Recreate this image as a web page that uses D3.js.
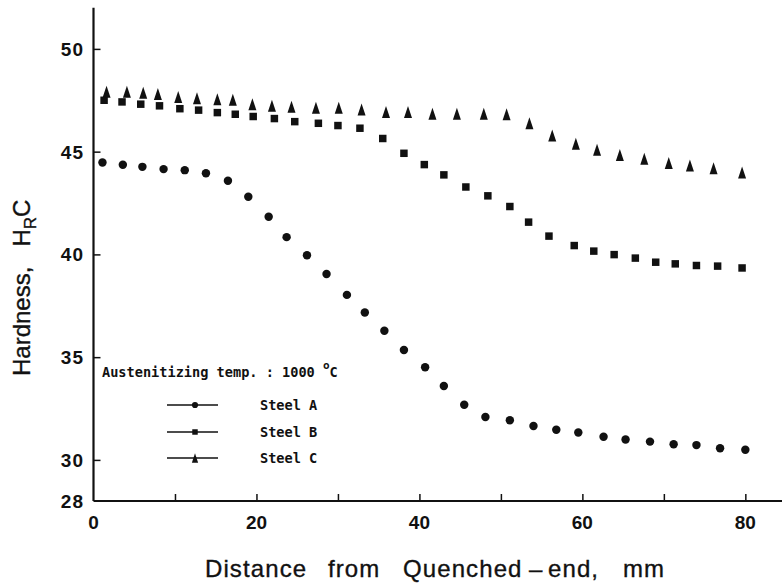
<!DOCTYPE html>
<html>
<head>
<meta charset="utf-8">
<script src="https://cdn.jsdelivr.net/npm/d3@7"></script>
<style>
  body { margin: 0; background: #fff; }
  svg { display: block; }
</style>
</head>
<body>
<div id="chart"></div>
<script>
// distance from quenched end (mm) and hardness (HRC)
var distA = [1.1, 3.6, 6.0, 8.6, 11.2, 13.8, 16.5, 19.0, 21.5, 23.7, 26.2, 28.6, 31.1, 33.3, 35.7, 38.1,
    40.7, 43.0, 45.5, 48.1, 51.1, 54.0, 56.8, 59.5, 62.6, 65.3, 68.3, 71.2, 74.0, 76.9, 80.0];
var hardA = [44.47, 44.36, 44.26, 44.15, 44.1, 43.95, 43.58, 42.81, 41.83, 40.84, 39.96, 39.05, 38.03, 37.17, 36.28, 35.35,
    34.51, 33.6, 32.68, 32.09, 31.93, 31.65, 31.47, 31.33, 31.13, 30.99, 30.89, 30.76, 30.72, 30.57, 30.49];

var distB = [1.3, 3.5, 5.8, 8.1, 10.6, 12.9, 15.2, 17.4, 19.6, 22.2, 24.7, 27.6, 30.0, 32.7, 35.5, 38.1,
    40.6, 43.0, 45.7, 48.4, 51.1, 53.4, 55.9, 59.0, 61.4, 63.9, 66.5, 69.0, 71.4, 74.0, 76.6, 79.6];
var hardB = [47.5, 47.42, 47.31, 47.23, 47.09, 47.02, 46.9, 46.82, 46.71, 46.61, 46.46, 46.38, 46.27, 46.14, 45.64, 44.92,
    44.37, 43.87, 43.28, 42.85, 42.33, 41.57, 40.89, 40.43, 40.16, 39.99, 39.82, 39.62, 39.54, 39.46, 39.43, 39.34];

var distC = [1.6, 4.1, 6.1, 7.9, 10.4, 12.7, 15.2, 17.1, 19.5, 21.9, 24.3, 27.3, 30.1, 32.9, 35.9,
    38.6, 41.6, 44.6, 47.9, 50.7, 53.5, 56.3, 59.2, 61.8, 64.6, 67.6, 70.6, 73.2, 76.1, 79.6];
var hardC = [47.92, 47.92, 47.87, 47.80, 47.66, 47.60, 47.55, 47.52, 47.31, 47.23, 47.19, 47.14, 47.14, 47.05, 46.93,
    46.93, 46.85, 46.85, 46.85, 46.82, 46.38, 45.78, 45.39, 45.09, 44.84, 44.66, 44.45, 44.32, 44.19, 43.98];

var xTicks = [10, 20, 30, 40, 50, 60, 70, 80];
var xLabels = [0, 20, 40, 60, 80];
var yTicks = [30, 35, 40, 45, 50];
var yLabels = [28, 30, 35, 40, 45, 50];
var seriesNames = ["Steel A", "Steel B", "Steel C"];
var legendTitle = "Austenitizing temp. : 1000 ";
var xTitleWords = ["Distance", "from", "Quenched", "\u2013", "end,", "mm"];

var width = 782, height = 584;
var x = d3.scaleLinear().domain([0, 84.5]).range([93.5, 782]);
var y = d3.scaleLinear().domain([28, 52]).range([501, 7.8]);

var svg = d3.select("#chart").append("svg")
    .attr("width", width)
    .attr("height", height);

var ink = "#111";

// markers
var tri = function (s) {
    var h = 6 * s, w = 4 * s;
    return "M0," + (-h) + "L" + w + "," + h + "L" + (-w) + "," + h + "Z";
};
var shapes = [
    d3.symbol().type(d3.symbolCircle).size(56)(),
    d3.symbol().type(d3.symbolSquare).size(56)(),
    tri(1)
];
var legShapes = [
    d3.symbol().type(d3.symbolCircle).size(30)(),
    d3.symbol().type(d3.symbolSquare).size(30)(),
    tri(0.78)
];

// axes
var xAxis = d3.axisBottom(x).tickValues(xTicks).tickSize(-7).tickFormat("");
var yAxis = d3.axisLeft(y).tickValues(yTicks).tickSize(-7).tickFormat("");

var gx = svg.append("g").attr("transform", "translate(0," + y(28) + ")").call(xAxis);
var gy = svg.append("g").attr("transform", "translate(" + x(0) + ",0)").call(yAxis);
[gx, gy].forEach(function (g) {
    g.select(".domain").attr("stroke", ink).attr("stroke-width", 2.2);
    g.selectAll(".tick line").attr("stroke", ink).attr("stroke-width", 1.5);
});
gx.select(".domain").attr("d", "M" + x(0) + ",0H" + x(84.5));
gy.select(".domain").attr("d", "M0," + y(28) + "V" + y(52));

svg.append("g").selectAll("text")
    .data(xLabels).enter().append("text")
    .attr("x", function (d) { return x(d); })
    .attr("y", 529)
    .attr("text-anchor", "middle")
    .style("font", "bold 19px Arial, 'Liberation Sans', sans-serif")
    .attr("fill", ink)
    .text(function (d) { return d; });

svg.append("g").selectAll("text")
    .data(yLabels).enter().append("text")
    .attr("x", 84)
    .attr("y", function (d) { return y(d) + 7; })
    .attr("text-anchor", "end")
    .style("font", "bold 19px Arial, 'Liberation Sans', sans-serif")
    .style("letter-spacing", "1px")
    .attr("fill", ink)
    .text(function (d) { return d; });

// axis titles (words spaced like the scan)
var wordX = [205, 328, 403, 529, 548, 623];
var xt = svg.append("text")
    .attr("y", 577)
    .style("font", "24px Arial, 'Liberation Sans', sans-serif")
    .style("letter-spacing", "1.1px")
    .attr("fill", ink)
    .attr("stroke", ink)
    .attr("stroke-width", 0.35);
xTitleWords.forEach(function (w, i) {
    xt.append("tspan").attr("x", wordX[i]).text(w);
});

var yt = svg.append("text")
    .attr("transform", "translate(30,376) rotate(-90)")
    .style("font", "24px Arial, 'Liberation Sans', sans-serif")
    .attr("fill", ink)
    .attr("stroke", ink)
    .attr("stroke-width", 0.35)
    .attr("xml:space", "preserve");
yt.append("tspan").text("Hardness,   H");
yt.append("tspan").attr("dy", 6).style("font-size", "17px").text("R");
yt.append("tspan").attr("dy", -6).text("C");

// data points
var series = [
    { xs: distA, ys: hardA },
    { xs: distB, ys: hardB },
    { xs: distC, ys: hardC }
];
series.forEach(function (s, i) {
    svg.append("g").selectAll("path")
        .data(s.xs).enter().append("path")
        .attr("d", shapes[i])
        .attr("transform", function (d, j) { return "translate(" + x(d) + "," + y(s.ys[j]) + ")"; })
        .attr("fill", ink);
});

// legend
var legFont = "bold 13.6px 'DejaVu Sans Mono', 'Liberation Mono', monospace";
var lt = svg.append("text")
    .attr("x", 102)
    .attr("y", 377)
    .style("font", legFont)
    .attr("fill", ink)
    .attr("xml:space", "preserve")
    .text(legendTitle);
lt.append("tspan").attr("dy", -8).style("font-size", "11px").text("o");
lt.append("tspan").attr("dy", 8).text("C");

var legRows = [405, 432, 458];
seriesNames.forEach(function (name, i) {
    var g = svg.append("g").attr("transform", "translate(0," + legRows[i] + ")");
    g.append("line").attr("x1", 167).attr("x2", 218).attr("y1", 0).attr("y2", 0)
        .attr("stroke", ink).attr("stroke-width", 1.3);
    g.append("path").attr("d", legShapes[i]).attr("transform", "translate(195,0)").attr("fill", ink);
    g.append("text").attr("x", 260).attr("y", 5)
        .style("font", legFont)
        .attr("fill", ink)
        .text(name);
});
</script>
</body>
</html>
